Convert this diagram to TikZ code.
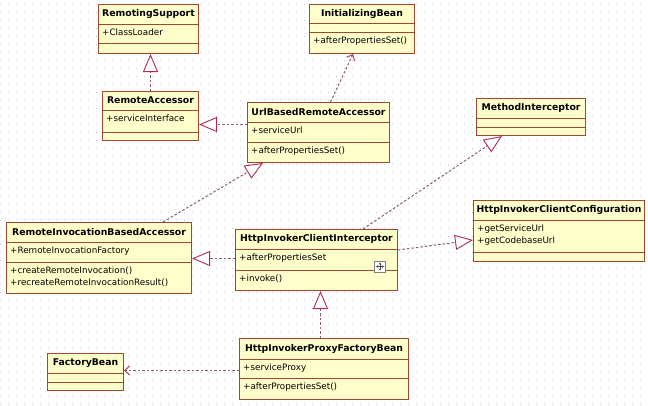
\documentclass[tikz,border=0pt]{standalone}
\usepackage{fontspec}
\setmainfont{DejaVu Sans}
\usetikzlibrary{arrows.meta,calc}
\definecolor{boxfill}{RGB}{255,255,204}
\definecolor{boxline}{RGB}{160,72,45}
\definecolor{conn}{RGB}{140,90,120}
\definecolor{tri}{RGB}{175,45,80}
\definecolor{dotc}{RGB}{200,200,200}
\tikzset{
  classbox/.style={draw=boxline, fill=boxfill, line width=1pt, inner sep=0pt, rectangle},
  sepline/.style={draw=boxline, line width=0.8pt},
  titletext/.style={font=\fontsize{9.3}{11}\selectfont\bfseries, inner sep=0pt},
  membertext/.style={font=\fontsize{8.8}{11.5}\selectfont, inner sep=0pt, align=left, anchor=north west},
  realize/.style={draw=conn, line width=1pt, dash pattern=on 2.5pt off 2pt,
    -{Triangle[open, length=18pt, width=15pt, fill=white, color=tri, line width=0.9pt]}},
  depend/.style={draw=conn, line width=1pt, dash pattern=on 2.5pt off 2pt,
    -{Straight Barb[length=5pt, width=9pt, color=tri, line width=0.9pt]}},
  moveicon/.style={draw=gray, fill=white, line width=0.6pt, minimum size=11pt, inner sep=0pt},
  movearrow/.style={draw=black!70, line width=0.6pt, {Stealth[length=2pt,width=2.5pt]}-{Stealth[length=2pt,width=2.5pt]}},
}
% #1 name, #2 position, #3 width, #4 height, #5 first separator, #6 second separator, #7 title, #8 attributes, #9 operations
\newcommand\umlclass[9]{%
  \node[classbox, minimum width=#3pt, minimum height=#4pt, anchor=north west] (#1) at #2 {};
  \draw[sepline] ($(#1.north west)+(0,#5)$) -- ($(#1.north east)+(0,#5)$);
  \draw[sepline] ($(#1.north west)+(0,#6)$) -- ($(#1.north east)+(0,#6)$);
  \node[titletext] (#1-t) at ($(#1.north)+(0,#5/2)$) {#7};
  \node[membertext] (#1-a) at ($(#1.north west)+(4,#5+5)$) {#8};
  \node[membertext] (#1-o) at ($(#1.north west)+(4,#6+5)$) {#9};
}
\begin{document}
\begin{tikzpicture}[x=1pt,y=-1pt]
\useasboundingbox (0,0) rectangle (648,405);
\fill[white] (0,0) rectangle (648,405);
\foreach \y in {4,12,...,404}
  \draw[dotc, line width=1pt, dash pattern=on 1pt off 7pt] (0,\y) -- (648,\y);

\umlclass{rs}{(98,4)}{100}{49}{20}{39}{RemotingSupport}{+ClassLoader}{}
\umlclass{ra}{(102,91)}{96}{49}{19}{41}{RemoteAccessor}{+serviceInterface}{}
\umlclass{ib}{(309,4)}{105}{49}{19}{28}{InitializingBean}{}{+afterPropertiesSet()}
\umlclass{ub}{(247,102)}{142}{60}{20}{40}{UrlBasedRemoteAccessor}{+serviceUrl}{+afterPropertiesSet()}
\umlclass{mi}{(476,98)}{109}{37}{20}{29}{MethodInterceptor}{}{}
\umlclass{hicc}{(473,200)}{171}{61}{20}{52}{HttpInvokerClientConfiguration}{+getServiceUrl\\+getCodebaseUrl}{}
\umlclass{riba}{(6,222)}{185}{71}{20}{40}{RemoteInvocationBasedAccessor}{+RemoteInvocationFactory}{+createRemoteInvocation()\\+recreateRemoteInvocationResult()}
\umlclass{hici}{(235,229)}{162}{61}{20}{41}{HttpInvokerClientInterceptor}{+afterPropertiesSet}{+invoke()}
\umlclass{fb}{(47,353)}{76}{37}{20}{29}{FactoryBean}{}{}
\umlclass{hipfb}{(239,338)}{169}{61}{21}{40}{HttpInvokerProxyFactoryBean}{+serviceProxy}{+afterPropertiesSet()}

\node[moveicon] (mv) at (380,266.5) {};
\draw[movearrow] ($(mv.center)+(-4,0)$) -- ($(mv.center)+(4,0)$);
\draw[movearrow] ($(mv.center)+(0,-4)$) -- ($(mv.center)+(0,4)$);

\draw[realize] (ra.north) -- (ra.north |- rs.south);
\draw[realize] ($(ub.north west)+(0,22.5)$) -- (ra.east |- {$(ub.north west)+(0,22.5)$});
\draw[depend] ($(ub.north)+(12,0)$) -- ($(ib.south)+(-9,0)$);
\draw[realize] ($(riba.north west)+(157,0)$) -- ($(ub.south west)+(16,0)$);
\draw[realize] ($(hici.north west)+(128,0)$) -- ($(mi.south west)+(26,0)$);
\draw[realize] ($(hici.north west)+(0,29.5)$) -- (riba.east |- {$(hici.north west)+(0,29.5)$});
\draw[realize] ($(hici.north east)+(0,21)$) -- ($(hicc.north west)+(0,40)$);
\draw[realize] ($(hipfb.north west)+(81.5,0)$) -- ({$(hipfb.north west)+(81.5,0)$} |- hici.south);
\draw[depend] ($(hipfb.north west)+(0,32.5)$) -- (fb.east |- {$(hipfb.north west)+(0,32.5)$});
\end{tikzpicture}
\end{document}
